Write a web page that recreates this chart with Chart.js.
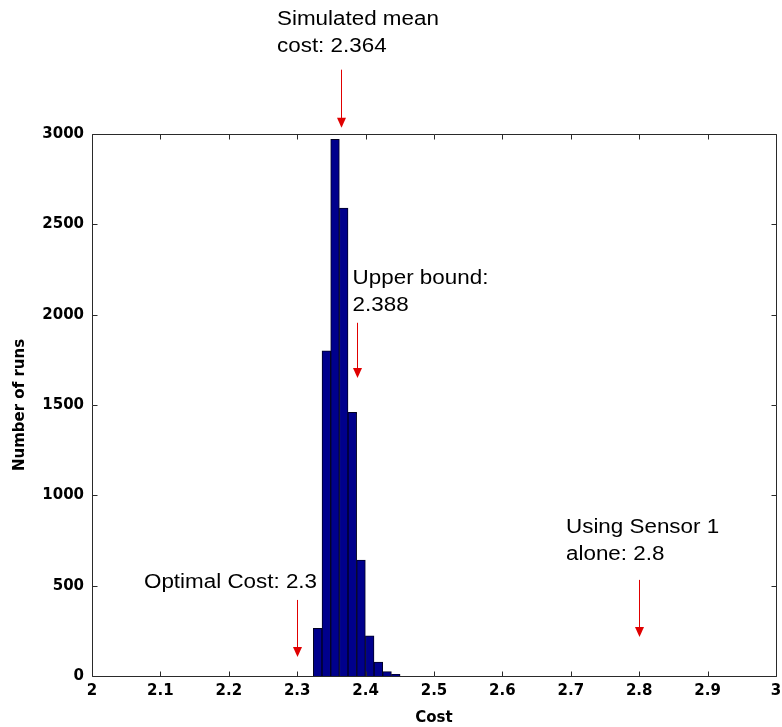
<!DOCTYPE html>
<html>
<head>
<meta charset="utf-8">
<title>Cost histogram</title>
<script src="https://cdn.jsdelivr.net/npm/chart.js@4/dist/chart.umd.min.js"></script>
<style>
html, body { margin: 0; padding: 0; background: #ffffff; }
#cost_chart { display: block; }
</style>
</head>
<body>
<canvas id="cost_chart" width="782" height="727"></canvas>
<script>
// histogram bins (centre of each cost bin) and number of runs in each
const bin_centers = [2.3299, 2.3426, 2.3553, 2.3680, 2.3806, 2.3933, 2.4060, 2.4187, 2.4314, 2.4441];
const run_counts = [264, 1800, 2970, 2590, 1460, 642, 223, 77, 24, 9];

const cost_ticks = [2, 2.1, 2.2, 2.3, 2.4, 2.5, 2.6, 2.7, 2.8, 2.9, 3];
const run_ticks = [0, 500, 1000, 1500, 2000, 2500, 3000];

// reference costs pointed at by the arrows
const mean_cost = 2.364;
const upper_bound = 2.388;
const optimal_cost = 2.3;
const sensor1_cost = 2.8;

const note_lines = [
    ["Simulated mean", "cost: " + mean_cost],
    ["Upper bound:", String(upper_bound)],
    ["Optimal Cost: " + optimal_cost],
    ["Using Sensor 1", "alone: " + sensor1_cost],
];
const note_costs = [mean_cost, upper_bound, optimal_cost, sensor1_cost];

// where the text and arrows sit, in axis units (cost, runs)
const note_layout = [
    { text_x: 2.2705, text_y: 3605, arrow_top: 3356, arrow_tip: 3035 },
    { text_x: 2.3810, text_y: 2171, arrow_top: 1955, arrow_tip: 1650 },
    { text_x: 2.0760, text_y: 487,  arrow_top: 421,  arrow_tip: 105 },
    { text_x: 2.6930, text_y: 792,  arrow_top: 532,  arrow_tip: 216 },
];

const tick_font = { family: "'DejaVu Sans', sans-serif", size: 15, weight: "bold" };
const note_font = "20px 'Liberation Sans', Arial, sans-serif";
const note_stretch = 1.12;
const line_gap = 27;
const tick_len = 5;

function fmt_cost(v) {
    return String(Math.round(v * 10) / 10);
}

function draw_arrow(ctx, x, y_top, y_tip) {
    ctx.strokeStyle = "#e00000";
    ctx.fillStyle = "#e00000";
    ctx.lineWidth = 1;
    ctx.beginPath();
    ctx.moveTo(x + 0.5, y_top);
    ctx.lineTo(x + 0.5, y_tip - 8);
    ctx.stroke();
    ctx.beginPath();
    ctx.moveTo(x + 0.5 - 4.5, y_tip - 10);
    ctx.lineTo(x + 0.5 + 4.5, y_tip - 10);
    ctx.lineTo(x + 0.5, y_tip);
    ctx.closePath();
    ctx.fill();
}

// MATLAB style box with inward ticks, plus the red arrows and notes
const frame_plugin = {
    id: "frame_plugin",
    afterDraw(chart) {
        const ctx = chart.ctx;
        const area = chart.chartArea;
        const xs = chart.scales.x;
        const ys = chart.scales.y;
        const left = Math.round(area.left) + 0.5;
        const right = Math.round(area.right) + 0.5;
        const top = Math.round(area.top) + 0.5;
        const bottom = Math.round(area.bottom) + 0.5;

        ctx.save();
        ctx.strokeStyle = "#2a2a2a";
        ctx.lineWidth = 1;
        ctx.beginPath();
        ctx.rect(left, top, right - left, bottom - top);
        cost_ticks.forEach(function (t) {
            const px = Math.round(xs.getPixelForValue(t)) + 0.5;
            ctx.moveTo(px, bottom); ctx.lineTo(px, bottom - tick_len);
            ctx.moveTo(px, top); ctx.lineTo(px, top + tick_len);
        });
        run_ticks.forEach(function (t) {
            const py = Math.round(ys.getPixelForValue(t)) + 0.5;
            ctx.moveTo(left, py); ctx.lineTo(left + tick_len, py);
            ctx.moveTo(right, py); ctx.lineTo(right - tick_len, py);
        });
        ctx.stroke();

        note_layout.forEach(function (n, i) {
            const ax = Math.round(xs.getPixelForValue(note_costs[i]));
            draw_arrow(ctx, ax, ys.getPixelForValue(n.arrow_top), ys.getPixelForValue(n.arrow_tip));

            const tx = xs.getPixelForValue(n.text_x);
            const ty = ys.getPixelForValue(n.text_y);
            ctx.font = note_font;
            ctx.fillStyle = "#000000";
            ctx.textBaseline = "alphabetic";
            note_lines[i].forEach(function (line, k) {
                ctx.save();
                ctx.translate(tx, ty + k * line_gap);
                ctx.scale(note_stretch, 1);
                ctx.fillText(line, 0, 0);
                ctx.restore();
            });
        });
        ctx.restore();
    }
};

const hist_data = bin_centers.map(function (c, i) { return { x: c, y: run_counts[i] }; });

const cost_chart = new Chart(
    document.getElementById("cost_chart"),
    {
        type: "bar",
        data: {
            datasets: [{
                label: "Number of runs",
                data: hist_data,
                backgroundColor: "#00008c",
                borderColor: "#000022",
                borderWidth: 1,
                barPercentage: 1.0,
                categoryPercentage: 1.0,
            }]
        },
        options: {
            responsive: false,
            animation: false,
            layout: { padding: { top: 134, right: 6, left: 0, bottom: 0 } },
            plugins: {
                legend: { display: false },
                tooltip: { enabled: false },
            },
            scales: {
                x: {
                    type: "linear",
                    min: 2,
                    max: 3,
                    offset: false,
                    afterBuildTicks: function (scale) {
                        scale.ticks = cost_ticks.map(function (v) { return { value: v }; });
                    },
                    afterFit: function (scale) {
                        scale.height = 51;
                        scale.paddingLeft = 0;
                        scale.paddingRight = 0;
                    },
                    grid: { display: false, drawTicks: false, offset: false },
                    border: { display: false },
                    ticks: {
                        color: "#000000",
                        font: tick_font,
                        padding: 6,
                        maxRotation: 0,
                        autoSkip: false,
                        callback: function (v) { return fmt_cost(v); },
                    },
                    title: {
                        display: true,
                        text: "Cost",
                        color: "#000000",
                        font: tick_font,
                        padding: { top: 2, bottom: 0 },
                    },
                },
                y: {
                    min: 0,
                    max: 3000,
                    afterBuildTicks: function (scale) {
                        scale.ticks = run_ticks.map(function (v) { return { value: v }; });
                    },
                    afterFit: function (scale) { scale.width = 92; },
                    grid: { display: false, drawTicks: false },
                    border: { display: false },
                    ticks: {
                        color: "#000000",
                        font: tick_font,
                        padding: 8,
                        callback: function (v) { return String(v); },
                    },
                    title: {
                        display: true,
                        text: "Number of runs",
                        color: "#000000",
                        font: tick_font,
                        padding: { top: 11, bottom: 0 },
                    },
                },
            },
        },
        plugins: [frame_plugin],
    }
);
</script>
</body>
</html>
